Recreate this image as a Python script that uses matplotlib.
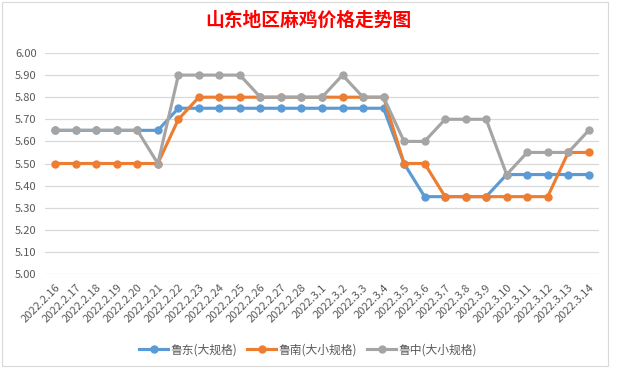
import matplotlib
matplotlib.use('Agg')
import matplotlib.pyplot as plt
from matplotlib.patches import Rectangle

plt.rcParams['font.family'] = ['Noto Sans CJK SC', 'DejaVu Sans']

# --- Data ---
dates = ['2022.2.16', '2022.2.17', '2022.2.18', '2022.2.19', '2022.2.20', '2022.2.21',
         '2022.2.22', '2022.2.23', '2022.2.24', '2022.2.25', '2022.2.26', '2022.2.27',
         '2022.2.28', '2022.3.1', '2022.3.2', '2022.3.3', '2022.3.4', '2022.3.5',
         '2022.3.6', '2022.3.7', '2022.3.8', '2022.3.9', '2022.3.10', '2022.3.11',
         '2022.3.12', '2022.3.13', '2022.3.14']

ludong = [5.65, 5.65, 5.65, 5.65, 5.65, 5.65, 5.75, 5.75, 5.75, 5.75, 5.75, 5.75,
          5.75, 5.75, 5.75, 5.75, 5.75, 5.50, 5.35, 5.35, 5.35, 5.35, 5.45, 5.45,
          5.45, 5.45, 5.45]
lunan = [5.50, 5.50, 5.50, 5.50, 5.50, 5.50, 5.70, 5.80, 5.80, 5.80, 5.80, 5.80,
         5.80, 5.80, 5.80, 5.80, 5.80, 5.50, 5.50, 5.35, 5.35, 5.35, 5.35, 5.35,
         5.35, 5.55, 5.55]
luzhong = [5.65, 5.65, 5.65, 5.65, 5.65, 5.50, 5.90, 5.90, 5.90, 5.90, 5.80, 5.80,
           5.80, 5.80, 5.90, 5.80, 5.80, 5.60, 5.60, 5.70, 5.70, 5.70, 5.45, 5.55,
           5.55, 5.55, 5.65]

series_names = ['鲁东(大规格)', '鲁南(大小规格)', '鲁中(大小规格)']
colors = ['#5B9BD5', '#ED7D31', '#A5A5A5']
yticks = [5.00, 5.10, 5.20, 5.30, 5.40, 5.50, 5.60, 5.70, 5.80, 5.90, 6.00]

# --- Plot ---
fig = plt.figure(figsize=(6.17, 3.71), dpi=100)
fig.patches.append(Rectangle((2 / 617, 1 - 366 / 371), 606 / 617, 364 / 371,
                             transform=fig.transFigure, fill=False,
                             edgecolor='#D9D9D9', linewidth=0.8))

ax = fig.add_axes([45 / 617, 1 - 274 / 371, 554 / 617, 221 / 371])
x = list(range(len(dates)))
for vals, name, c in zip([ludong, lunan, luzhong], series_names, colors):
    ax.plot(x, vals, color=c, linewidth=2.25, marker='o', markersize=5,
            label=name, zorder=3)

ax.set_xlim(-0.5, len(dates) - 0.5)
ax.set_ylim(5.0, 6.0)
ax.set_yticks(yticks)
ax.set_yticklabels([f'{v:.2f}' for v in yticks], fontsize=8, color='#595959')
ax.set_xticks(x)
ax.set_xticklabels(dates, rotation=45, ha='right', rotation_mode='anchor',
                   fontsize=8, color='#595959')
ax.tick_params(length=0, pad=6)
ax.grid(axis='y', color='#D9D9D9', linewidth=0.9)
ax.set_axisbelow(True)
for s in ax.spines.values():
    s.set_visible(False)

fig.text(308 / 617, 1 - 20 / 371, '山东地区麻鸡价格走势图', ha='center', va='center',
         fontsize=13.5, fontweight='bold', color='#FF0000')

fig.legend(loc='center', bbox_to_anchor=(308 / 617, 1 - 350 / 371), ncol=3,
           frameon=False, fontsize=8.5, handlelength=2.5, columnspacing=0.8,
           handletextpad=0.2, labelcolor='#595959')

fig.savefig('out.png', dpi=100, facecolor='white')
